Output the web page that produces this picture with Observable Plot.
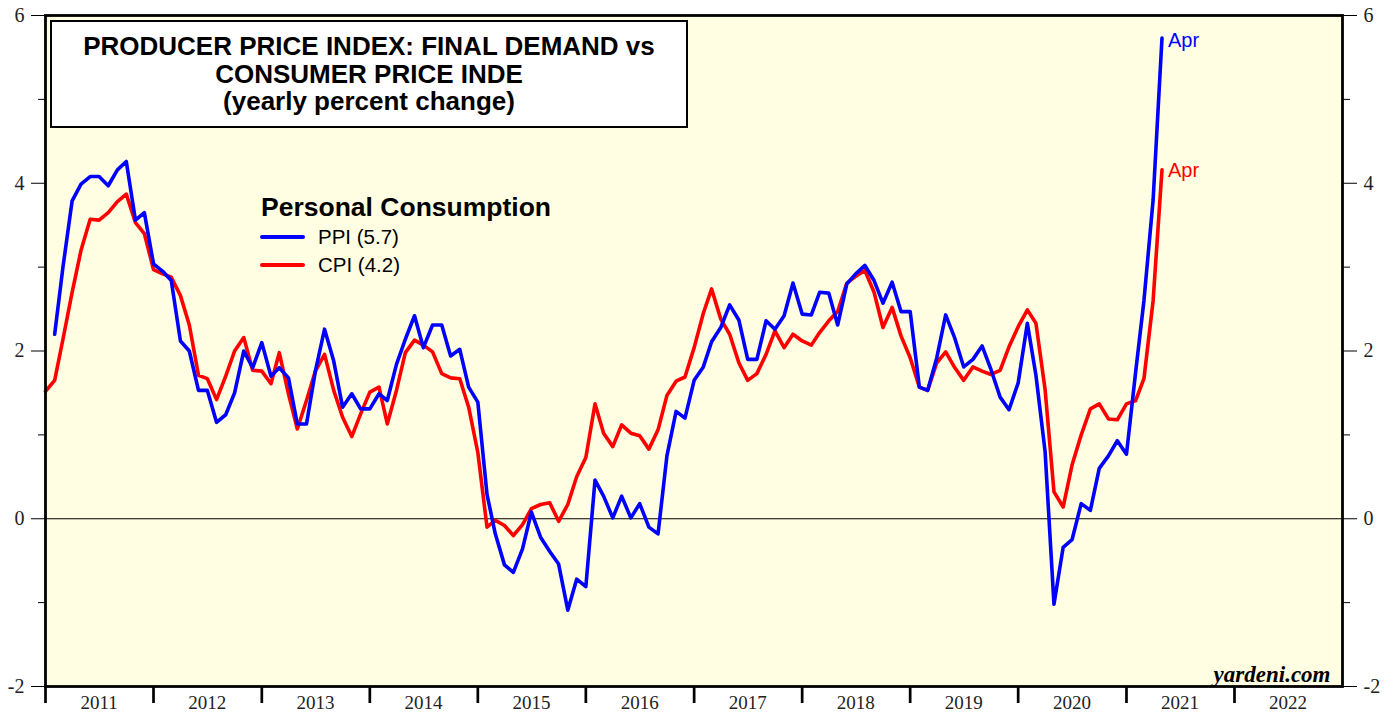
<!DOCTYPE html>
<html>
<head>
<meta charset="utf-8">
<script src="https://cdn.jsdelivr.net/npm/d3@7"></script>
<script src="https://cdn.jsdelivr.net/npm/@observablehq/plot@0.6"></script>
<style>
  body { margin: 0; background: #fff; }
  #wrap { position: relative; width: 1393px; height: 717px; overflow: hidden; }
  #title {
    position: absolute; left: 50px; top: 20px; width: 638px; height: 108px;
    box-sizing: border-box; border: 2px solid #000; background: #fff;
    font-family: "Liberation Sans", Arial, sans-serif; font-weight: bold; font-size: 26px;
    line-height: 27.5px; text-align: center; padding-top: 11px; color: #000;
  }
  #legend { position: absolute; left: 260px; top: 191px; font-family: "Liberation Sans", Arial, sans-serif; color: #000; }
  #legend .head { font-weight: bold; font-size: 26.5px; line-height: 32px; margin-left: 1px; }
  #legend .row { display: flex; align-items: center; height: 28px; font-size: 20.5px; }
  #legend .sw { width: 45px; height: 4px; border-radius: 2px; margin-right: 13px; }
</style>
</head>
<body>
<div id="wrap">
  <div id="chart"></div>
  <div id="title">PRODUCER PRICE INDEX: FINAL DEMAND vs<br>CONSUMER PRICE INDE<br>(yearly percent change)</div>
  <div id="legend"></div>
</div>
<script>
// ---- Data (yearly % change, monthly) ----
const cpiStart = "2010-12"; // first CPI month
const ppiStart = "2011-01"; // first PPI month
const seriesNames = ["PPI", "CPI"];
const seriesColors = ["#0000ff", "#ff0000"];
const legendTitle = "Personal Consumption";
const lastLabel = "Apr";

const cpi = [
  1.52, 1.65, 2.14, 2.70, 3.20, 3.57, 3.56, 3.65, 3.78, 3.87, 3.53, 3.40,
  2.97, 2.92, 2.88, 2.66, 2.31, 1.71, 1.67, 1.42, 1.70, 2.00, 2.16, 1.77,
  1.76, 1.61, 1.98, 1.49, 1.07, 1.41, 1.76, 1.96, 1.53, 1.21, 0.98, 1.25,
  1.51, 1.57, 1.13, 1.53, 1.98, 2.13, 2.07, 1.99, 1.73, 1.68, 1.67, 1.33,
  0.79, -0.10, -0.02, -0.08, -0.20, -0.07, 0.12, 0.17, 0.19, -0.03, 0.17, 0.50,
  0.73, 1.37, 1.02, 0.86, 1.12, 1.02, 0.99, 0.83, 1.06, 1.47, 1.64, 1.69,
  2.04, 2.45, 2.74, 2.38, 2.20, 1.86, 1.65, 1.73, 1.96, 2.24, 2.04, 2.20,
  2.12, 2.07, 2.22, 2.36, 2.47, 2.81, 2.89, 2.96, 2.70, 2.28, 2.52, 2.18,
  1.92, 1.57, 1.53, 1.86, 1.99, 1.80, 1.65, 1.81, 1.76, 1.72, 1.77, 2.05,
  2.29, 2.49, 2.33, 1.54, 0.32, 0.14, 0.64, 1.00, 1.31, 1.37, 1.19, 1.18,
  1.37, 1.41, 1.67, 2.60, 4.16
];
const ppi = [
  2.20, 3.00, 3.79, 3.99, 4.08, 4.08, 3.97, 4.16, 4.26, 3.56, 3.65, 3.04,
  2.95, 2.84, 2.12, 2.00, 1.53, 1.53, 1.15, 1.24, 1.50, 2.00, 1.80, 2.10,
  1.70, 1.80, 1.68, 1.13, 1.13, 1.76, 2.26, 1.88, 1.33, 1.49, 1.31, 1.31,
  1.49, 1.41, 1.84, 2.14, 2.42, 2.04, 2.31, 2.31, 1.94, 2.02, 1.57, 1.39,
  0.29, -0.18, -0.55, -0.64, -0.36, 0.08, -0.22, -0.39, -0.54, -1.09, -0.72, -0.81,
  0.46, 0.27, 0.01, 0.27, 0.01, 0.18, -0.10, -0.18, 0.75, 1.28, 1.20, 1.65,
  1.81, 2.11, 2.28, 2.55, 2.37, 1.90, 1.90, 2.36, 2.26, 2.42, 2.81, 2.44,
  2.43, 2.70, 2.69, 2.31, 2.80, 2.92, 3.02, 2.84, 2.57, 2.82, 2.47, 2.47,
  1.57, 1.53, 1.92, 2.43, 2.15, 1.81, 1.90, 2.06, 1.78, 1.45, 1.30, 1.62,
  2.33, 1.71, 0.80, -1.02, -0.34, -0.25, 0.18, 0.10, 0.60, 0.75, 0.93, 0.77,
  1.75, 2.60, 3.80, 5.73
];
const years = [2011, 2012, 2013, 2014, 2015, 2016, 2017, 2018, 2019, 2020, 2021, 2022];
const yMajor = [-2, 0, 2, 4, 6];
const yMinor = [-1, 1, 3, 5];
const sourceText = "yardeni.com";

// ---- Build tables (monthly values plotted at month end) ----
const parseMonth = d3.utcParse("%Y-%m");
function toRows(values, startMonth, name) {
  const s = parseMonth(startMonth);
  return values.map((v, i) => ({ date: d3.utcMonth.offset(s, i + 1), value: v, series: name }));
}
const ppiRows = toRows(ppi, ppiStart, "PPI");
const cpiRows = toRows(cpi, cpiStart, "CPI");
const yearStarts = years.map(y => new Date(Date.UTC(y, 0, 1)));
const yearMids = years.map(y => new Date(Date.UTC(y, 6, 1)));
const xDomain = [new Date(Date.UTC(years[0], 0, 1)), new Date(Date.UTC(years[years.length - 1] + 1, 0, 1))];

const serif = "'Liberation Serif', 'Times New Roman', serif";
const sans = "'Liberation Sans', Arial, sans-serif";

const chart = Plot.plot({
  width: 1393,
  height: 717,
  marginLeft: 45,
  marginRight: 51,
  marginTop: 15,
  marginBottom: 31,
  x: { type: "utc", domain: xDomain, label: null },
  y: { domain: [yMajor[0], yMajor[yMajor.length - 1]], label: null },
  style: { fontFamily: serif, fontSize: "20px", color: "#222", background: "transparent", overflow: "visible" },
  marks: [
    Plot.frame({ fill: "#fffee3", stroke: null }),
    Plot.ruleY([0], { stroke: "#000", strokeWidth: 1 }),
    Plot.line(cpiRows, { x: "date", y: "value", stroke: seriesColors[1], strokeWidth: 3.6, strokeLinejoin: "round" }),
    Plot.line(ppiRows, { x: "date", y: "value", stroke: seriesColors[0], strokeWidth: 3.6, strokeLinejoin: "round" }),
    Plot.text([ppiRows[ppiRows.length - 1]], { x: "date", y: "value", text: () => lastLabel, dx: 6, dy: 2, textAnchor: "start", fill: seriesColors[0], fontFamily: sans, fontSize: 20 }),
    Plot.text([cpiRows[cpiRows.length - 1]], { x: "date", y: "value", text: () => lastLabel, dx: 6, dy: 1, textAnchor: "start", fill: seriesColors[1], fontFamily: sans, fontSize: 20 }),
    Plot.text([sourceText], { text: d => d, frameAnchor: "bottom-right", dx: -12, dy: -5, textAnchor: "end", fontFamily: serif, fontWeight: "bold", fontStyle: "italic", fontSize: 23, fill: "#000" }),
    Plot.axisY({ anchor: "left", ticks: yMajor, tickSize: 14, tickPadding: 7, tickFormat: d => String(d), stroke: "#000", label: null }),
    Plot.axisY({ anchor: "left", ticks: yMinor, tickSize: 7, tickFormat: () => "", stroke: "#000", label: null }),
    Plot.axisY({ anchor: "right", ticks: yMajor, tickSize: 14, tickPadding: 7, tickFormat: d => String(d), stroke: "#000", label: null }),
    Plot.axisY({ anchor: "right", ticks: yMinor, tickSize: 7, tickFormat: () => "", stroke: "#000", label: null }),
    Plot.axisX({ anchor: "bottom", ticks: yearStarts, tickSize: 17, tickFormat: () => "", stroke: "#000", strokeWidth: 2.7, label: null }),
    Plot.axisX({ anchor: "bottom", ticks: yearMids, tickSize: 0, tickPadding: 9, tickFormat: d3.utcFormat("%Y"), fontSize: 19, label: null }),
    Plot.frame({ stroke: "#000", strokeWidth: 2.8 })
  ]
});
document.getElementById("chart").appendChild(chart);

// ---- Legend ----
const legend = document.getElementById("legend");
const head = document.createElement("div");
head.className = "head";
head.textContent = legendTitle;
legend.appendChild(head);
const lastVals = [ppi[ppi.length - 1], cpi[cpi.length - 1]];
seriesNames.forEach((n, i) => {
  const row = document.createElement("div");
  row.className = "row";
  const sw = document.createElement("div");
  sw.className = "sw";
  sw.style.background = seriesColors[i];
  const t = document.createElement("span");
  t.textContent = `${n} (${lastVals[i].toFixed(1)})`;
  row.appendChild(sw);
  row.appendChild(t);
  legend.appendChild(row);
});
</script>
</body>
</html>
